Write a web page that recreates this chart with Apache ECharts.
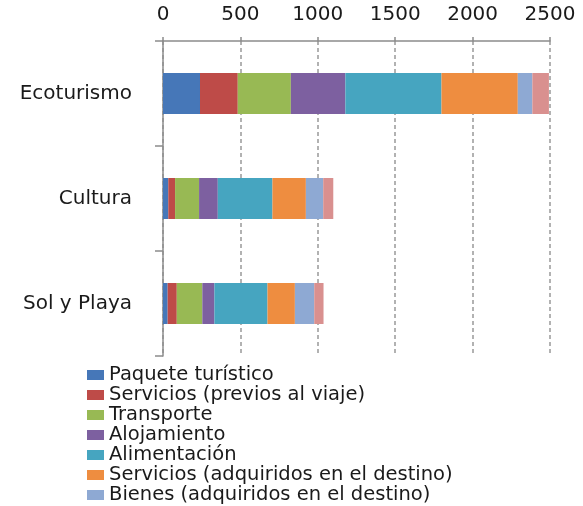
<!DOCTYPE html>
<html><head><meta charset="utf-8">
<script src="https://cdn.jsdelivr.net/npm/echarts@6/dist/echarts.min.js"></script>
<style>html,body{margin:0;padding:0;background:#fff}#c{width:583px;height:506px}</style>
</head><body><div id="c"></div>
<script>
const categories = ['Sol y Playa', 'Cultura', 'Ecoturismo'];
const seriesNames = ['Paquete turístico', 'Servicios (previos al viaje)', 'Transporte', 'Alojamiento', 'Alimentación', 'Servicios (adquiridos en el destino)', 'Bienes (adquiridos en el destino)', 'Otros'];
const paquete = [30, 34, 239];
const serviciosPrevios = [59, 44, 244];
const transporte = [165, 155, 343];
const alojamiento = [78, 121, 352];
const alimentacion = [343, 353, 621];
const serviciosDestino = [177, 216, 493];
const bienes = [125, 112, 94];
const otros = [60, 65, 107];
const xTicks = [0, 500, 1000, 1500, 2000, 2500];

const values = [paquete, serviciosPrevios, transporte, alojamiento, alimentacion, serviciosDestino, bienes, otros];
const colors = ['#4677B8', '#BE4B48', '#98B954', '#7D60A0', '#46A5C0', '#EE8D40', '#8EA9D3', '#D9908F'];
const font = 'DejaVu Sans';

const chart = echarts.init(document.getElementById('c'));
chart.setOption({
  animation: false,
  color: colors,
  grid: { left: 163, right: 33, top: 41, bottom: 150, containLabel: false },
  xAxis: {
    type: 'value', position: 'top', min: xTicks[0], max: xTicks[xTicks.length - 1], interval: 500,
    axisLine: { show: true, lineStyle: { color: '#8c8c8c', width: 1.5 } },
    axisTick: { show: true, length: 4, lineStyle: { color: '#8c8c8c', width: 1.5 } },
    axisLabel: { color: '#1a1a1a', fontSize: 20, fontFamily: font, margin: 16, formatter: v => String(v) },
    splitLine: { show: true, lineStyle: { color: '#999', type: [4, 3], width: 1.5 } }
  },
  yAxis: {
    type: 'category', data: categories,
    axisLine: { show: true, lineStyle: { color: '#8c8c8c', width: 1.5 } },
    axisTick: { show: true, length: 8, lineStyle: { color: '#8c8c8c', width: 1.5 } },
    axisLabel: { color: '#1a1a1a', fontSize: 20, fontFamily: font, margin: 31 }
  },
  legend: {
    orient: 'vertical', left: 87, top: 365, padding: 0, itemGap: 0, itemWidth: 17, itemHeight: 10,
    icon: 'rect', data: seriesNames.slice(0, 7),
    textStyle: { color: '#1a1a1a', fontSize: 19.5, fontFamily: font, lineHeight: 20 }
  },
  series: seriesNames.map((n, i) => ({
    name: n, type: 'bar', stack: 'total', barWidth: 41,
    data: values[i], itemStyle: { color: colors[i] }
  }))
});
</script></body></html>
